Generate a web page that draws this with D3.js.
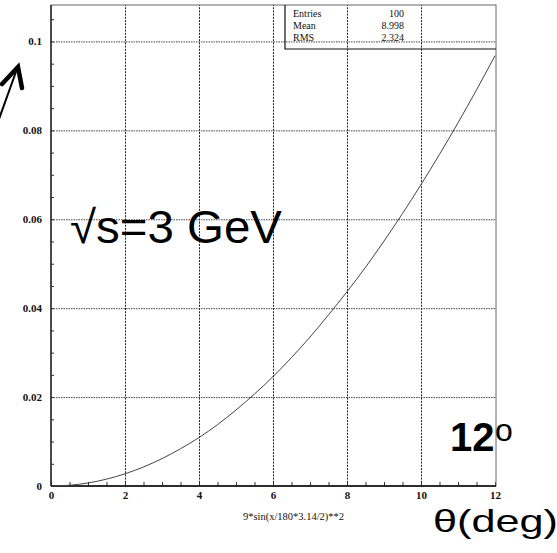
<!DOCTYPE html>
<html>
<head>
<meta charset="utf-8">
<script src="https://cdn.jsdelivr.net/npm/d3@7"></script>
<style>
  html, body { margin: 0; padding: 0; background: #fff; }
  svg { display: block; }
</style>
</head>
<body>
<svg id="chart" width="557" height="553"></svg>
<script>
// ---- data ----
const xValues = [0, 0.5, 1, 1.5, 2, 2.5, 3, 3.5, 4, 4.5, 5, 5.5, 6, 6.5, 7, 7.5, 8, 8.5, 9, 9.5, 10, 10.5, 11, 11.5, 12];
const yValues = [0, 0.00017, 0.00068, 0.00154, 0.00274, 0.00428, 0.00616, 0.00838, 0.0109, 0.0138, 0.0171, 0.0207, 0.0246, 0.0289, 0.0335, 0.0385, 0.0437, 0.0492, 0.0551, 0.0613, 0.0678, 0.0746, 0.0817, 0.0891, 0.0968];
const xTickValues = [0, 2, 4, 6, 8, 10, 12];
const xTickLabels = ["0", "2", "4", "6", "8", "10", "12"];
const yTickValues = [0, 0.02, 0.04, 0.06, 0.08, 0.1];
const yTickLabels = ["0", "0.02", "0.04", "0.06", "0.08", "0.1"];
const statNames = ["Entries", "Mean", "RMS"];
const statValues = ["100", "8.998", "2.324"];
const xTitle = "9*sin(x/180*3.14/2)**2";

// ---- layout ----
const L = 51, R = 495, T = 5, B = 486;
const svg = d3.select("#chart");
const x = d3.scaleLinear().domain([0, 12]).range([L, R]);
const y = d3.scaleLinear().domain([0, 0.1082]).range([B, T]);

// grid lines
const gx = svg.append("g").attr("transform", `translate(0,${B})`)
  .call(d3.axisBottom(x).tickValues([2, 4, 6, 8, 10]).tickSize(-(B - T)).tickFormat(""));
gx.select(".domain").remove();
gx.selectAll("line").attr("stroke", "#222").attr("stroke-dasharray", "2,1.2").attr("stroke-width", 1);

const gy = svg.append("g").attr("transform", `translate(${L},0)`)
  .call(d3.axisLeft(y).tickValues([0.02, 0.04, 0.06, 0.08, 0.1]).tickSize(-(R - L)).tickFormat(""));
gy.select(".domain").remove();
gy.selectAll("line").attr("stroke", "#444").attr("stroke-dasharray", "1.5,1").attr("stroke-width", 1);

// minor ticks
const yMinor = d3.range(0, 0.1081, 0.005);
const gym = svg.append("g").attr("transform", `translate(${L},0)`)
  .call(d3.axisLeft(y).tickValues(yMinor).tickSize(-3).tickFormat(""));
gym.select(".domain").remove();
gym.selectAll("line").attr("stroke", "#333");

const xMinor = d3.range(0, 12.01, 0.5);
const gxm = svg.append("g").attr("transform", `translate(0,${B})`)
  .call(d3.axisBottom(x).tickValues(xMinor).tickSize(-4).tickFormat(""));
gxm.select(".domain").remove();
gxm.selectAll("line").attr("stroke", "#333");

// frame
svg.append("rect").attr("x", L).attr("y", T).attr("width", R - L + 1).attr("height", B - T)
  .attr("fill", "none").attr("stroke", "#666").attr("stroke-width", 1);
svg.append("line").attr("x1", L).attr("x2", L).attr("y1", T).attr("y2", B)
  .attr("stroke", "#111").attr("stroke-width", 1.3);
svg.append("line").attr("x1", L).attr("x2", R + 1).attr("y1", B).attr("y2", B)
  .attr("stroke", "#000").attr("stroke-width", 1.6);

// curve
svg.append("path")
  .datum(xValues.map((v, i) => [v, yValues[i]]))
  .attr("fill", "none").attr("stroke", "#444").attr("stroke-width", 1)
  .attr("d", d3.line().x(d => x(d[0])).y(d => y(d[1])).curve(d3.curveMonotoneX));

// tick labels
const ax = svg.append("g").attr("transform", `translate(0,${B})`)
  .call(d3.axisBottom(x).tickValues(xTickValues).tickSize(0).tickPadding(5)
    .tickFormat((d, i) => xTickLabels[i]));
ax.select(".domain").remove();
ax.selectAll("text").attr("font-family", "Liberation Serif, serif").attr("font-weight", "bold")
  .attr("font-size", 11).attr("fill", "#111");

const ay = svg.append("g").attr("transform", `translate(${L},0)`)
  .call(d3.axisLeft(y).tickValues(yTickValues).tickSize(0).tickPadding(9)
    .tickFormat((d, i) => yTickLabels[i]));
ay.select(".domain").remove();
ay.selectAll("text").attr("font-family", "Liberation Serif, serif").attr("font-weight", "bold")
  .attr("font-size", 11).attr("fill", "#111");

// x title
svg.append("text").attr("x", 293.5).attr("y", 520).attr("text-anchor", "middle")
  .attr("font-family", "Liberation Serif, serif").attr("font-size", 10.5).attr("fill", "#111")
  .text(xTitle);

// stats box
svg.append("polyline")
  .attr("points", `285,${T} 285,49 ${R + 1},49`)
  .attr("fill", "none").attr("stroke", "#111").attr("stroke-width", 1.2);
const sg = svg.append("g").attr("font-family", "Liberation Serif, serif").attr("font-size", 10).attr("fill", "#111");
statNames.forEach((n, i) => {
  sg.append("text").attr("x", 293).attr("y", 17 + i * 12).text(n);
  sg.append("text").attr("x", 404).attr("y", 17 + i * 12).attr("text-anchor", "end").text(statValues[i]);
});

// annotations
svg.append("text").attr("x", 70).attr("y", 243)
  .attr("font-family", "Liberation Sans, Arial, sans-serif").attr("font-size", 46).attr("fill", "#000")
  .attr("textLength", 212).attr("lengthAdjust", "spacingAndGlyphs")
  .text("√s=3 GeV");

svg.append("text").attr("x", 450).attr("y", 451)
  .attr("font-family", "Liberation Sans, Arial, sans-serif").attr("font-size", 40).attr("font-weight", "bold")
  .attr("fill", "#000").text("12");
svg.append("text").attr("x", 495).attr("y", 441)
  .attr("font-family", "Liberation Sans, Arial, sans-serif").attr("font-size", 32).attr("fill", "#000")
  .text("o");

svg.append("text").attr("x", 433).attr("y", 532)
  .attr("font-family", "Liberation Sans, Arial, sans-serif").attr("font-size", 32).attr("fill", "#000")
  .attr("textLength", 125).attr("lengthAdjust", "spacingAndGlyphs")
  .text("θ(deg)");

// arrow
svg.append("line").attr("x1", -1).attr("y1", 119).attr("x2", 17).attr("y2", 69)
  .attr("stroke", "#000").attr("stroke-width", 2);
svg.append("polyline").attr("points", "2,84 18,67 22,88")
  .attr("fill", "none").attr("stroke", "#000").attr("stroke-width", 4.5)
  .attr("stroke-linejoin", "miter").attr("stroke-linecap", "round");
</script>
</body>
</html>
